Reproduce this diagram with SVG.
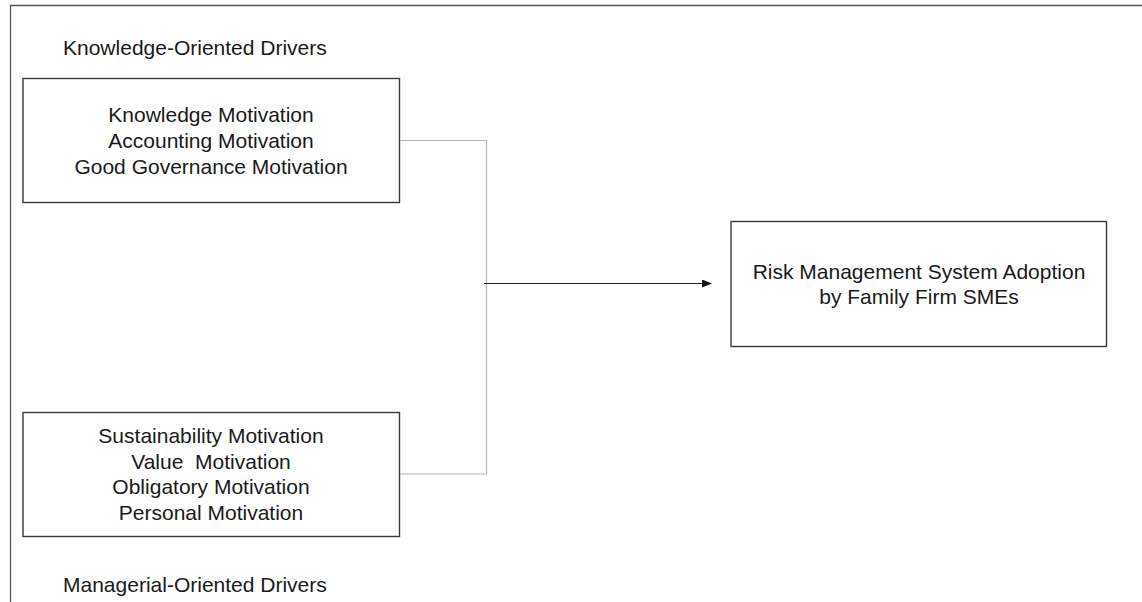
<svg xmlns="http://www.w3.org/2000/svg" width="1142" height="602" viewBox="0 0 1142 602">
<defs>
<style>
.box{fill:#fff;stroke:#3a3a3a;stroke-width:1.4}
.t{font-family:"Liberation Sans",Arial,Helvetica,sans-serif;font-size:21px;fill:#1a1a1a}
.c{text-anchor:middle}
.frame{fill:none;stroke:#555;stroke-width:1.3}
.grey{fill:none;stroke:#b4b4b4;stroke-width:1.2}
.arr{fill:none;stroke:#222;stroke-width:1.1}
</style>
<marker id="ah" markerWidth="10" markerHeight="8" refX="9" refY="4" orient="auto" markerUnits="userSpaceOnUse">
<path d="M0,0 L10,4 L0,8 Z" fill="#111"/>
</marker>
</defs>
<rect width="1142" height="602" fill="#fff"/>
<path class="frame" d="M10.5,602 V5.5 H1142"/>
<g id="label-knowledge">
<text class="t" x="63" y="55">Knowledge-Oriented Drivers</text>
</g>
<g id="node-knowledge">
<rect class="box" x="23" y="78.5" width="376.5" height="124"/>
<text class="t c" x="211" y="122">Knowledge Motivation</text>
<text class="t c" x="211" y="148">Accounting Motivation</text>
<text class="t c" x="211" y="174">Good Governance Motivation</text>
</g>
<g id="node-managerial">
<rect class="box" x="23" y="412.5" width="376.5" height="124"/>
<text class="t c" x="211" y="443">Sustainability Motivation</text>
<text class="t c" x="211" y="469" xml:space="preserve">Value  Motivation</text>
<text class="t c" x="211" y="494">Obligatory Motivation</text>
<text class="t c" x="211" y="520">Personal Motivation</text>
</g>
<g id="label-managerial">
<text class="t" x="63" y="592">Managerial-Oriented Drivers</text>
</g>
<g id="node-outcome">
<rect class="box" x="731" y="221.5" width="375.5" height="125"/>
<text class="t c" x="919" y="279">Risk Management System Adoption</text>
<text class="t c" x="919" y="304">by Family Firm SMEs</text>
</g>
<g id="connectors">
<path class="grey" d="M400,140.5 H486.5 V474 H400"/>
<path class="arr" d="M484,283.5 H711" marker-end="url(#ah)"/>
</g>
</svg>
